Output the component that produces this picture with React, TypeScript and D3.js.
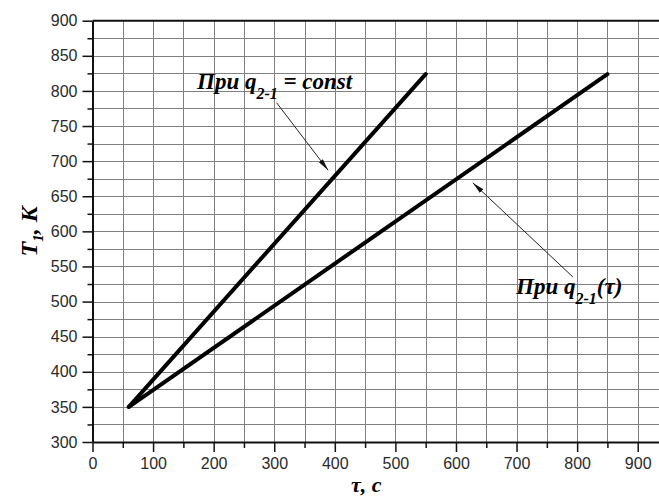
import * as d3 from 'd3';
import React, { useRef, useEffect } from 'react';

// tau, s  /  T1, K
const constTau = [60, 550];
const constT = [350, 824];
const varTau = [60, 850];
const varT = [350, 824];

const xTicks = [0, 100, 200, 300, 400, 500, 600, 700, 800, 900];
const xMinor = [50, 150, 250, 350, 450, 550, 650, 750, 850, 950];
const yTicks = [300, 350, 400, 450, 500, 550, 600, 650, 700, 750, 800, 850, 900];
const yMinor = [325, 375, 425, 475, 525, 575, 625, 675, 725, 775, 825, 875];

// annotation arrows: [from, to] in data units
const constArrow = [[304, 783], [389, 687]];
const varArrow = [[793, 535], [628, 669]];

const W = 659;
const H = 496;

function App() {
    const ref = useRef(null);

    useEffect(() => {
        const svg = d3.select(ref.current);
        svg.selectAll('*').remove();

        const x = d3.scaleLinear().domain([0, 950]).range([92.5, 668]);
        const y = d3.scaleLinear().domain([300, 900]).range([442, 20.7]);

        const defs = svg.append('defs');
        defs.append('marker')
            .attr('id', 'arr')
            .attr('viewBox', '0 0 12 6')
            .attr('refX', 12).attr('refY', 3)
            .attr('markerWidth', 12).attr('markerHeight', 6)
            .attr('markerUnits', 'userSpaceOnUse')
            .attr('orient', 'auto')
            .append('path')
            .attr('d', 'M0,0.5 L12,3 L0,5.5 Z')
            .attr('fill', '#111');

        // grid
        const grid = svg.append('g').attr('stroke', '#808080').attr('stroke-width', 1);
        grid.selectAll('.gv').data([...xTicks, ...xMinor].filter(d => d > 0))
            .enter().append('line')
            .attr('x1', d => Math.round(x(d)) + 0.5).attr('x2', d => Math.round(x(d)) + 0.5)
            .attr('y1', y(900)).attr('y2', y(300));
        grid.selectAll('.gh').data([...yTicks, ...yMinor].filter(d => d > 300 && d < 900))
            .enter().append('line')
            .attr('x1', x(0)).attr('x2', x(950))
            .attr('y1', d => Math.round(y(d)) + 0.5).attr('y2', d => Math.round(y(d)) + 0.5);

        const tickFont = (g) => g.selectAll('text')
            .attr('font-family', '"Liberation Sans", Arial, sans-serif')
            .attr('font-size', 16)
            .attr('fill', '#2a2a2a');

        // x axis
        svg.append('g')
            .attr('transform', `translate(0,${y(300)})`)
            .call(d3.axisBottom(x).tickValues(xMinor).tickSize(6).tickSizeOuter(0).tickFormat(() => ''))
            .call(g => g.select('.domain').remove())
            .call(g => g.selectAll('line').attr('stroke-width', 1.5).attr('stroke', '#111'));
        svg.append('g')
            .attr('transform', `translate(0,${y(300)})`)
            .call(d3.axisBottom(x).tickValues(xTicks).tickSize(10).tickSizeOuter(0).tickPadding(6))
            .call(g => g.select('.domain').attr('stroke-width', 2).attr('stroke', '#111'))
            .call(g => g.selectAll('line').attr('stroke-width', 1.5).attr('stroke', '#111'))
            .call(tickFont);

        // y axis
        svg.append('g')
            .attr('transform', `translate(${x(0)},0)`)
            .call(d3.axisLeft(y).tickValues(yMinor).tickSize(5).tickSizeOuter(0).tickFormat(() => ''))
            .call(g => g.select('.domain').remove())
            .call(g => g.selectAll('line').attr('stroke-width', 1.5).attr('stroke', '#111'));
        svg.append('g')
            .attr('transform', `translate(${x(0)},0)`)
            .call(d3.axisLeft(y).tickValues(yTicks).tickSize(10).tickSizeOuter(0).tickPadding(5))
            .call(g => g.select('.domain').attr('stroke-width', 2).attr('stroke', '#111'))
            .call(g => g.selectAll('line').attr('stroke-width', 1.5).attr('stroke', '#111'))
            .call(tickFont);

        // top frame
        svg.append('line')
            .attr('x1', x(0)).attr('x2', x(950))
            .attr('y1', y(900)).attr('y2', y(900))
            .attr('stroke', '#111').attr('stroke-width', 2);

        // curves
        const line = d3.line().x(d => x(d[0])).y(d => y(d[1]));
        const series = [d3.zip(constTau, constT), d3.zip(varTau, varT)];
        svg.selectAll('.curve').data(series).enter().append('path')
            .attr('d', d => line(d))
            .attr('fill', 'none')
            .attr('stroke', '#000')
            .attr('stroke-width', 4)
            .attr('stroke-linecap', 'round');

        // arrows
        svg.selectAll('.arrow').data([constArrow, varArrow]).enter().append('line')
            .attr('x1', d => x(d[0][0])).attr('y1', d => y(d[0][1]))
            .attr('x2', d => x(d[1][0])).attr('y2', d => y(d[1][1]))
            .attr('stroke', '#222').attr('stroke-width', 1)
            .attr('marker-end', 'url(#arr)');

        const serif = '"Liberation Serif", "Times New Roman", serif';

        // labels
        const lab1 = svg.append('text')
            .attr('x', 197).attr('y', 89)
            .attr('font-family', serif).attr('font-size', 23)
            .attr('font-weight', 'bold').attr('font-style', 'italic');
        lab1.append('tspan').text('При q');
        lab1.append('tspan').attr('dy', 10).attr('font-size', 16).text('2-1');
        lab1.append('tspan').attr('dy', -10).text(' = const');

        const lab2 = svg.append('text')
            .attr('x', 516).attr('y', 294)
            .attr('font-family', serif).attr('font-size', 23)
            .attr('font-weight', 'bold').attr('font-style', 'italic');
        lab2.append('tspan').text('При q');
        lab2.append('tspan').attr('dy', 10).attr('font-size', 16).text('2-1');
        lab2.append('tspan').attr('dy', -10).text('(τ)');

        // axis titles
        svg.append('text')
            .attr('x', (x(0) + x(950)) / 2 - 14).attr('y', 492)
            .attr('text-anchor', 'middle')
            .attr('font-family', serif).attr('font-size', 22)
            .attr('font-weight', 'bold').attr('font-style', 'italic')
            .text('τ, c');

        const yt = svg.append('text')
            .attr('transform', `translate(37,${(y(300) + y(900)) / 2}) rotate(-90)`)
            .attr('text-anchor', 'middle')
            .attr('font-family', serif).attr('font-size', 24)
            .attr('font-weight', 'bold').attr('font-style', 'italic');
        yt.append('tspan').text('T');
        yt.append('tspan').attr('dy', 6).attr('font-size', 15).text('1');
        yt.append('tspan').attr('dy', -6).text(', K');
    }, []);

    return (
        <div style={{ position: 'absolute', left: 0, top: 0 }}>
            <svg ref={ref} width={W} height={H} style={{ display: 'block', background: '#fff' }}></svg>
        </div>
    );
}

export default App;
